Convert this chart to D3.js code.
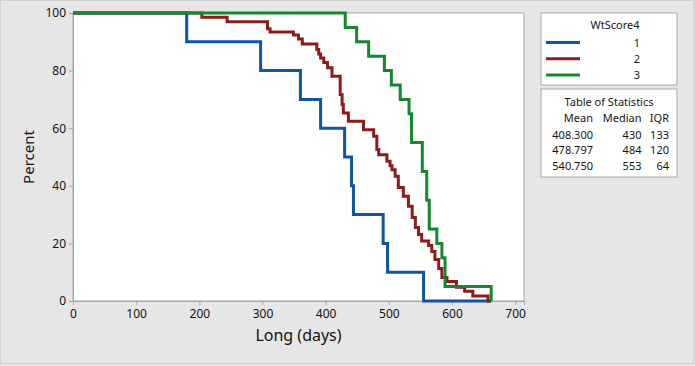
<!DOCTYPE html>
<html>
<head>
<meta charset="utf-8">
<script src="https://cdn.jsdelivr.net/npm/d3@7"></script>
<style>
  html, body { margin: 0; padding: 0; background: #e6e6e6; }
  svg { display: block; font-family: "Segoe UI", "Noto Sans", sans-serif; }
</style>
</head>
<body>
<svg id="chart"></svg>
<script>
// survival curves, percent vs days, one per WtScore4 group
const group1Days = [0, 180, 297, 360, 392, 430, 441, 444, 491, 498, 555, 662];
const group1Pct  = [100, 90, 80, 70, 60, 50, 40, 30, 20, 10, 0, 0];

const group2Days = [0, 204, 244, 308, 312, 349, 357, 363, 386, 389, 392, 397, 403, 410, 423, 426, 428, 436, 460, 476,
                    481, 484, 497, 502, 505, 510, 515, 523, 531, 537, 542, 547, 552, 563, 568, 573, 579, 584, 592, 607,
                    620, 633, 657, 662];
const group2Pct  = [100, 98.5, 97, 94.5, 93.4, 92.4, 91, 89.2, 87.3, 85.8, 84.4, 82.8, 81, 78, 71.7, 68.2, 65.3, 62.4, 59.5, 57.2,
                    52.6, 50.8, 48.5, 47, 45.6, 43.3, 39.4, 36.4, 32.9, 29, 25.5, 23.1, 20.8, 19.3, 17.2, 14.4, 11.3, 8.2, 6.8, 4.8,
                    3.4, 1.7, 0, 0];

const group3Days = [0, 431, 449, 468, 493, 504, 518, 532, 536, 553, 560, 564, 576, 584, 589, 662];
const group3Pct  = [100, 95, 90, 85, 80, 75, 70, 65, 55, 45, 35, 25, 20, 15, 5, 0];

const groups = ['1', '2', '3'];
const statMean = ['408.300', '478.797', '540.750'];
const statMedian = ['430', '484', '553'];
const statIQR = ['133', '120', '64'];

const xTicks = [0, 100, 200, 300, 400, 500, 600, 700];
const yTicks = [0, 20, 40, 60, 80, 100];

const W = 695, H = 366;
const plot = {left: 73, right: 524, top: 13, bottom: 301};
const color = {blue: '#0d55a5', red: '#8e1b1b', green: '#13892e', frame: '#a6a6a6', text: '#141414'};

const svg = d3.select('#chart').attr('width', W).attr('height', H);

svg.append('rect')
    .attr('x', 0.5).attr('y', 0.5)
    .attr('width', W - 2).attr('height', H - 3)
    .attr('fill', '#e6e6e6')
    .attr('stroke', '#d0d0d0');

const x = d3.scaleLinear().domain([0, 714]).range([plot.left, plot.right]);
const y = d3.scaleLinear().domain([0, 100]).range([plot.bottom, plot.top]);

// plot area
svg.append('rect')
    .attr('x', plot.left).attr('y', plot.top)
    .attr('width', plot.right - plot.left).attr('height', plot.bottom - plot.top)
    .attr('fill', '#fff')
    .attr('stroke', color.frame);

// axes
const xAxis = svg.append('g')
    .attr('transform', `translate(0,${plot.bottom})`)
    .call(d3.axisBottom(x).tickValues(xTicks).tickSize(4).tickPadding(4));
const yAxis = svg.append('g')
    .attr('transform', `translate(${plot.left},0)`)
    .call(d3.axisLeft(y).tickValues(yTicks).tickSize(4).tickPadding(3));

[xAxis, yAxis].forEach(a => {
  a.select('.domain').attr('stroke', color.frame);
  a.selectAll('.tick line').attr('stroke', color.frame);
  a.selectAll('.tick text')
      .attr('fill', color.text)
      .style('font-size', '12px')
      .style('font-family', '"Segoe UI", "Noto Sans", sans-serif');
});

svg.append('text')
    .text('Long (days)')
    .attr('x', (plot.left + plot.right) / 2)
    .attr('y', 341)
    .attr('text-anchor', 'middle')
    .attr('fill', color.text)
    .style('font-size', '16px');

svg.append('text')
    .text('Percent')
    .attr('transform', `translate(34,${(plot.top + plot.bottom) / 2}) rotate(-90)`)
    .attr('text-anchor', 'middle')
    .attr('fill', color.text)
    .style('font-size', '15px');

// curves
const series = [
  {days: group1Days, pct: group1Pct, color: color.blue},
  {days: group2Days, pct: group2Pct, color: color.red},
  {days: group3Days, pct: group3Pct, color: color.green}
];

const line = d3.line()
    .x(d => x(d[0]))
    .y(d => y(d[1]))
    .curve(d3.curveStepAfter);

svg.append('g')
    .selectAll('path')
    .data(series)
    .enter()
    .append('path')
    .attr('d', s => line(s.days.map((d, i) => [d, s.pct[i]])))
    .attr('fill', 'none')
    .attr('stroke', s => s.color)
    .attr('stroke-width', 3);

// legend
const legend = svg.append('g');
legend.append('rect')
    .attr('x', 541).attr('y', 13).attr('width', 136).attr('height', 72)
    .attr('fill', '#fff').attr('stroke', color.frame);
legend.append('text')
    .text('WtScore4')
    .attr('x', 615).attr('y', 29)
    .attr('text-anchor', 'middle')
    .attr('fill', color.text)
    .style('font-size', '11px');

const items = legend.selectAll('g.item')
    .data(groups)
    .enter()
    .append('g')
    .attr('class', 'item')
    .attr('transform', (d, i) => `translate(0,${42.5 + i * 16.2})`);
items.append('line')
    .attr('x1', 546).attr('x2', 580)
    .attr('stroke', (d, i) => series[i].color)
    .attr('stroke-width', 3);
items.append('text')
    .text(d => d)
    .attr('x', 637).attr('y', 4)
    .attr('text-anchor', 'middle')
    .attr('fill', color.text)
    .style('font-size', '11px');

// table of statistics
const table = svg.append('g');
table.append('rect')
    .attr('x', 541).attr('y', 89).attr('width', 136).attr('height', 88)
    .attr('fill', '#fff').attr('stroke', color.frame);
table.append('text')
    .text('Table of Statistics')
    .attr('x', 609).attr('y', 105.5)
    .attr('text-anchor', 'middle')
    .attr('fill', color.text)
    .style('font-size', '11px');

const cols = [
  {head: 'Mean', vals: statMean, x: 593},
  {head: 'Median', vals: statMedian, x: 641.5},
  {head: 'IQR', vals: statIQR, x: 669}
];
cols.forEach(c => {
  table.append('text')
      .text(c.head)
      .attr('x', c.x).attr('y', 122.3)
      .attr('text-anchor', 'end')
      .attr('fill', color.text)
      .style('font-size', '11px');
  table.selectAll(null)
      .data(c.vals)
      .enter()
      .append('text')
      .text(d => d)
      .attr('x', c.x)
      .attr('y', (d, i) => 139 + i * 15.4)
      .attr('text-anchor', 'end')
      .attr('fill', color.text)
      .style('font-size', '11px');
});
</script>
</body>
</html>
